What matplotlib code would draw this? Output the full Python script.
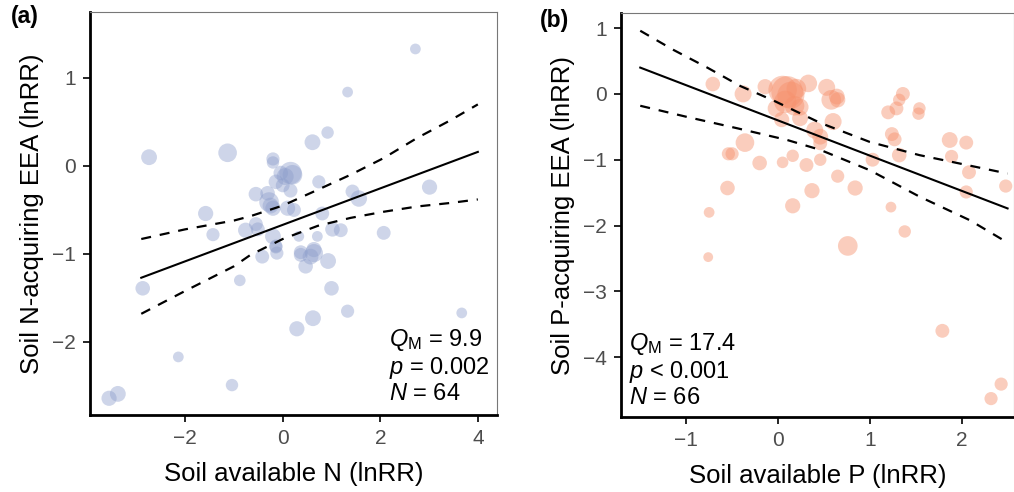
import matplotlib.pyplot as plt

plt.rcParams['font.family'] = ['Liberation Sans', 'DejaVu Sans']
plt.rcParams['mathtext.fontset'] = 'custom'
plt.rcParams['mathtext.rm'] = 'Liberation Sans'
plt.rcParams['mathtext.it'] = 'Liberation Sans:italic'

# Panel (a): soil available N vs N-acquiring EEA
n_x = [2.72, 1.33, 0.92, 0.61, -2.74, -1.13, -0.20, -0.20, 0.16, 0.20, -0.04, -0.14, 0.00,
       0.74, 0.16, -0.55, -0.31, -0.28, -0.20, 1.43, 1.56, 3.01, -1.58, 0.10, 0.23, 0.81,
       -0.55, -0.51, -0.76, -1.43, -0.20, 0.33, 0.71, 1.02, 1.19, 2.07, -0.14, 0.37, 0.64,
       -0.14, -0.42, -0.12, 0.37, 0.64, 0.57, 0.47, 0.93, -0.88, -2.87, 1.00, 1.33, 0.62,
       0.29, 3.67, -2.14, -1.04, -3.56, -3.38, 0.05, -0.25]
n_y = [1.33, 0.84, 0.38, 0.27, 0.10, 0.15, 0.08, 0.04, -0.08, -0.10, -0.08, -0.18, -0.22,
       -0.18, -0.28, -0.32, -0.31, -0.41, -0.48, -0.29, -0.37, -0.24, -0.54, -0.48, -0.50,
       -0.54, -0.66, -0.72, -0.73, -0.78, -0.80, -0.80, -0.80, -0.72, -0.73, -0.76, -0.91,
       -0.98, -0.95, -0.92, -1.03, -0.99, -1.01, -0.99, -1.03, -1.14, -1.08, -1.30, -1.39,
       -1.39, -1.65, -1.73, -1.85, -1.67, -2.17, -2.49, -2.64, -2.59, -0.12, -0.45]
n_s = [60, 60, 80, 130, 130, 180, 90, 80, 260, 200, 110, 110, 100,
       90, 100, 110, 110, 200, 120, 100, 140, 120, 120, 120, 100, 100,
       100, 100, 120, 90, 130, 60, 60, 110, 100, 100, 90, 100, 120,
       90, 100, 90, 100, 170, 130, 110, 130, 70, 110, 110, 90, 130,
       120, 60, 60, 80, 120, 130, 150, 130]

n_fit_x = [-2.9, 4.0]
n_fit_y = [-1.27, 0.16]
n_hi_x = [-2.9, -2.0, -1.0, -0.66, 0.0, 0.72, 1.39, 2.07, 2.76, 3.44, 4.0]
n_hi_y = [-0.83, -0.72, -0.62, -0.57, -0.45, -0.27, -0.10, 0.09, 0.32, 0.52, 0.70]
n_lo_x = [-2.9, -2.0, -1.0, -0.66, 0.0, 0.72, 1.39, 2.07, 2.76, 3.44, 4.0]
n_lo_y = [-1.68, -1.42, -1.14, -1.01, -0.83, -0.68, -0.59, -0.52, -0.46, -0.42, -0.38]

# Panel (b): soil available P vs P-acquiring EEA
p_x = [-0.71, -0.38, -0.14, 0.10, 0.05, 0.14, 0.08, 0.18, 0.33, 0.53, 0.64, 0.58, 0.65,
       -0.02, 0.24, 0.04, 0.24, 0.60, 0.40, 0.46, 0.46, 1.36, 1.32, 1.29, 1.20, 1.54,
       1.53, 1.24, 1.27, 1.32, 1.87, 2.05, 1.89, 2.08, 1.03, -0.36, -0.54, -0.50, -0.20,
       0.05, 0.16, 0.31, 0.46, 0.65, -0.55, 0.37, 0.84, 0.16, 1.23, 2.05, 2.48, -0.75,
       1.38, 0.76, -0.76, 1.79, 2.43, 2.32, 0.20]
p_y = [0.15, 0.00, 0.11, 0.03, 0.06, -0.02, -0.12, -0.18, 0.16, 0.10, -0.04, -0.09, -0.09,
       -0.22, -0.20, -0.39, -0.37, -0.42, -0.55, -0.65, -0.75, 0.00, -0.09, -0.22, -0.28,
       -0.22, -0.30, -0.61, -0.69, -0.93, -0.70, -0.74, -0.95, -1.19, -1.00, -0.74, -0.91,
       -0.91, -1.05, -1.04, -0.94, -1.08, -1.00, -1.25, -1.43, -1.47, -1.43, -1.70, -1.72,
       -1.49, -1.40, -1.80, -2.09, -2.31, -2.48, -3.60, -4.41, -4.63, 0.08]
p_s = [110, 150, 120, 520, 420, 380, 260, 200, 160, 150, 130, 200, 120,
       150, 150, 120, 130, 150, 150, 130, 100, 100, 80, 100, 100, 80,
       80, 100, 100, 110, 130, 100, 90, 100, 100, 180, 90, 90, 110,
       70, 80, 100, 80, 90, 110, 120, 120, 120, 60, 90, 90, 60,
       80, 200, 50, 100, 90, 90, 200]

p_fit_x = [-1.5, 2.5]
p_fit_y = [0.40, -1.74]
p_hi_x = [-1.5, -1.14, -0.77, -0.41, -0.05, 0.46, 1.0, 1.54, 2.09, 2.5]
p_hi_y = [0.96, 0.67, 0.40, 0.12, -0.10, -0.44, -0.73, -0.93, -1.09, -1.21]
p_lo_x = [-1.5, -0.99, -0.45, 0.10, 0.46, 1.0, 1.54, 2.09, 2.5]
p_lo_y = [-0.18, -0.35, -0.52, -0.70, -0.85, -1.16, -1.56, -1.92, -2.26]


def style_axes(ax):
    for side in ['top', 'right']:
        ax.spines[side].set_color('#777777')
        ax.spines[side].set_linewidth(0.8)
    for side in ['left', 'bottom']:
        ax.spines[side].set_color('black')
        ax.spines[side].set_linewidth(2.0)
    ax.tick_params(axis='both', labelsize=15, labelcolor='#4d4d4d',
                   length=5, width=1.2, color='black', pad=5)


fig = plt.figure(figsize=(10.14, 4.92), dpi=100)
dash = (0, (4.5, 4))

ax1 = fig.add_axes([0.0888, 0.1565, 0.4012, 0.8191])
ax1.scatter(n_x, n_y, s=n_s, color='#8c9dcb', alpha=0.42, edgecolors='none', zorder=2)
ax1.plot(n_fit_x, n_fit_y, color='black', lw=1.5, zorder=3)
ax1.plot(n_hi_x, n_hi_y, color='black', lw=1.6, ls=dash, zorder=3)
ax1.plot(n_lo_x, n_lo_y, color='black', lw=1.6, ls=dash, zorder=3)
ax1.set_xlim(-3.95, 4.39)
ax1.set_ylim(-2.83, 1.75)
ax1.set_xticks([-2, 0, 2, 4])
ax1.set_yticks([-2, -1, 0, 1])
ax1.set_xticklabels(['\u22122', '0', '2', '4'])
ax1.set_yticklabels(['\u22122', '\u22121', '0', '1'])
style_axes(ax1)
ax1.set_xlabel('Soil available N (lnRR)', fontsize=18.5, labelpad=10)
ax1.set_ylabel('Soil N-acquiring EEA (lnRR)', fontsize=18.5, labelpad=6)
ax1.text(0.735, 0.025, '$Q_{\\mathrm{M}}$ = 9.9\n$p$ = 0.002\n$N$ = 64',
         transform=ax1.transAxes, fontsize=17, va='bottom', ha='left', linespacing=1.12)
fig.text(0.011, 0.966, '(a)', fontsize=16.5, fontweight='bold', va='center')

ax2 = fig.add_axes([0.6124, 0.1524, 0.3876, 0.8212])
ax2.scatter(p_x, p_y, s=p_s, color='#f6916d', alpha=0.45, edgecolors='none', zorder=2)
ax2.plot(p_fit_x, p_fit_y, color='black', lw=1.5, zorder=3)
ax2.plot(p_hi_x, p_hi_y, color='black', lw=1.6, ls=dash, zorder=3)
ax2.plot(p_lo_x, p_lo_y, color='black', lw=1.6, ls=dash, zorder=3)
ax2.set_xlim(-1.71, 2.57)
ax2.set_ylim(-4.91, 1.23)
ax2.set_xticks([-1, 0, 1, 2])
ax2.set_yticks([-4, -3, -2, -1, 0, 1])
ax2.set_xticklabels(['\u22121', '0', '1', '2'])
ax2.set_yticklabels(['\u22124', '\u22123', '\u22122', '\u22121', '0', '1'])
style_axes(ax2)
ax2.set_xlabel('Soil available P (lnRR)', fontsize=18.5, labelpad=10)
ax2.set_ylabel('Soil P-acquiring EEA (lnRR)', fontsize=18.5, labelpad=6)
ax2.text(0.02, 0.02, '$Q_{\\mathrm{M}}$ = 17.4\n$p$ < 0.001\n$N$ = 66',
         transform=ax2.transAxes, fontsize=17, va='bottom', ha='left', linespacing=1.12)
fig.text(0.532, 0.958, '(b)', fontsize=16.5, fontweight='bold', va='center')

fig.savefig('out.png', dpi=100)
